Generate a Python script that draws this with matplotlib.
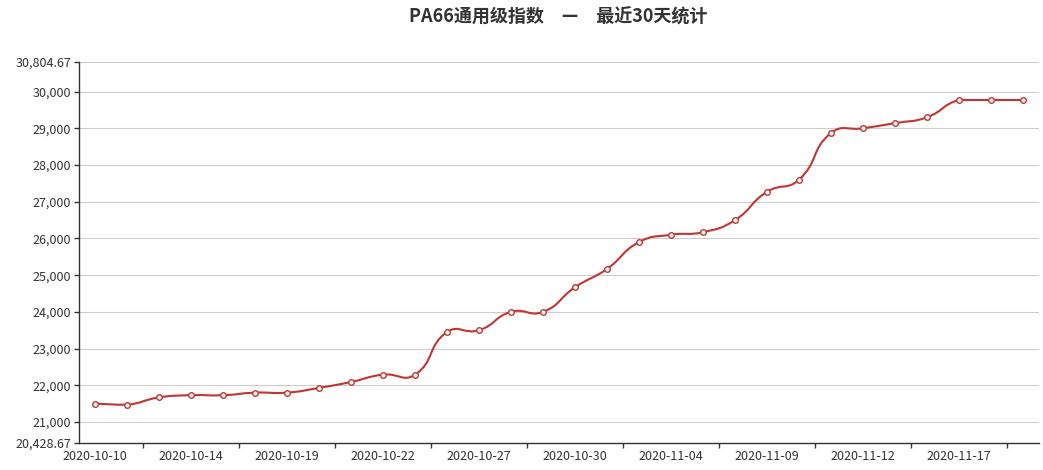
import numpy as np
import matplotlib
matplotlib.use('Agg')
import matplotlib.pyplot as plt
from matplotlib.path import Path
from matplotlib.patches import PathPatch

plt.rcParams['font.family'] = ['Noto Sans CJK SC', 'DejaVu Sans']

# data
dates = ['2020-10-10', '2020-10-12', '2020-10-13', '2020-10-14', '2020-10-15',
         '2020-10-16', '2020-10-19', '2020-10-20', '2020-10-21', '2020-10-22',
         '2020-10-23', '2020-10-26', '2020-10-27', '2020-10-28', '2020-10-29',
         '2020-10-30', '2020-11-02', '2020-11-03', '2020-11-04', '2020-11-05',
         '2020-11-06', '2020-11-09', '2020-11-10', '2020-11-11', '2020-11-12',
         '2020-11-13', '2020-11-16', '2020-11-17', '2020-11-18', '2020-11-19']
values = [21500, 21470, 21670, 21730, 21730,
          21800, 21800, 21930, 22090, 22290,
          22290, 23450, 23500, 24000, 24000,
          24670, 25170, 25900, 26100, 26170,
          26500, 27270, 27600, 28870, 29000,
          29140, 29300, 29770, 29770, 29770]
y_min = 20428.67
y_max = 30804.67
y_ticks = [20428.67, 21000, 22000, 23000, 24000, 25000, 26000, 27000, 28000, 29000, 30000, 30804.67]

W, H = 1043, 470
fig = plt.figure(figsize=(W / 100, H / 100), dpi=100)
ax = fig.add_axes([79 / W, (H - 443) / H, (1039 - 79) / W, (443 - 62) / H])

x = np.arange(len(values))
ax.set_xlim(-0.5, len(values) - 0.5)
ax.set_ylim(y_min, y_max)

# echarts-like smooth bezier, ratios computed in pixel space,
# control points clamped to the bounding box of all points
pts = np.column_stack([x, values]).astype(float)
pix = ax.transData.transform(pts)
lo, hi = pix.min(axis=0), pix.max(axis=0)
smooth = 0.5
n = len(pts)
verts = [tuple(pts[0])]
codes = [Path.MOVETO]
cps = []
for i in range(n):
    prev = pix[max(i - 1, 0)]
    nxt = pix[min(i + 1, n - 1)]
    p = pix[i]
    v = (nxt - prev) * smooth
    d0 = np.hypot(*(p - prev))
    d1 = np.hypot(*(p - nxt))
    s = d0 + d1
    if s > 0:
        d0, d1 = d0 / s, d1 / s
    c0 = np.clip(p - v * d0, lo, hi)
    c1 = np.clip(p + v * d1, lo, hi)
    cps.append((c0, c1))
inv = ax.transData.inverted()
for i in range(n - 1):
    c1 = inv.transform(cps[i][1])
    c2 = inv.transform(cps[i + 1][0])
    verts += [tuple(c1), tuple(c2), tuple(pts[i + 1])]
    codes += [Path.CURVE4] * 3
line_color = '#c23531'
ax.add_patch(PathPatch(Path(verts, codes), facecolor='none', edgecolor=line_color,
                       linewidth=1.5, zorder=3, capstyle='round', joinstyle='round'))
ax.plot(x, values, linestyle='none', marker='o', markersize=4,
        markerfacecolor='white', markeredgecolor=line_color, markeredgewidth=1.0, zorder=4)

# y axis
ax.set_yticks(y_ticks)
ax.set_yticklabels(['{:,.2f}'.format(t) if t != int(t) else '{:,}'.format(int(t)) for t in y_ticks])
for t in y_ticks[1:]:
    ax.axhline(t, color='#cccccc', linewidth=0.8, zorder=1)

# x axis: labels every third category, ticks at band boundaries
ax.set_xticks(x[::3])
ax.set_xticklabels(dates[::3])
ax.set_xticks(np.arange(1.5, len(values), 3), minor=True)
ax.tick_params(axis='x', which='major', length=0, pad=5, labelsize=9, labelcolor='#333333')
ax.tick_params(axis='x', which='minor', length=3.6, width=1, color='#333333')
ax.tick_params(axis='y', length=3.6, width=1, color='#333333', pad=2, labelsize=9, labelcolor='#333333')

for side in ['top', 'right']:
    ax.spines[side].set_visible(False)
for side in ['left', 'bottom']:
    ax.spines[side].set_color('#333333')
    ax.spines[side].set_linewidth(1)

fig.text(558 / W, 1 - 17 / H, 'PA66通用级指数　—　最近30天统计', ha='center', va='center',
         fontsize=13, fontweight='bold', color='#333333')

fig.savefig('out.png', dpi=100)
